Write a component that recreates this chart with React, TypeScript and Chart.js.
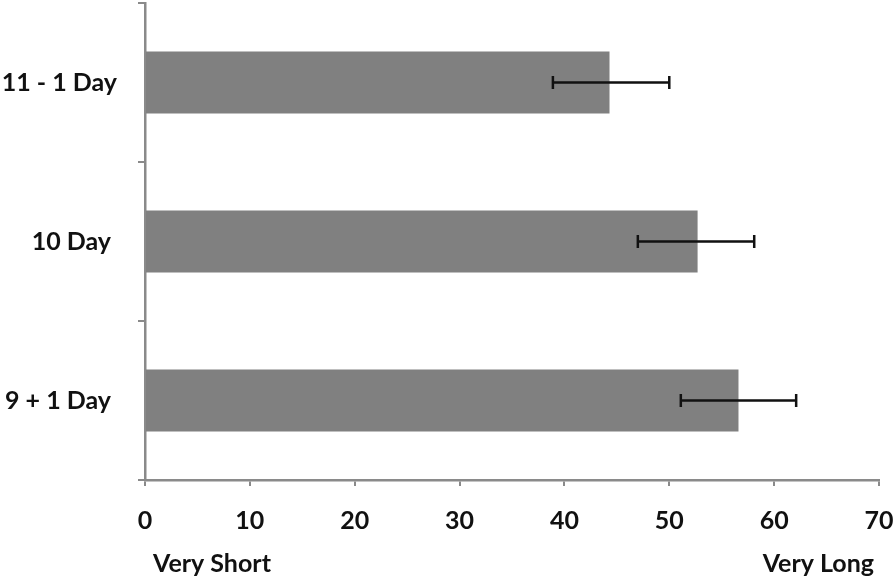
import React, { useEffect, useRef } from "react";
import { Chart, registerables } from "chart.js";

Chart.register(...registerables);

const categories = ["11 - 1 Day", "10 Day ", "9 + 1 Day "];
const values = [44.3, 52.7, 56.6];
const errLow = [38.9, 47.0, 51.1];
const errHigh = [50.0, 58.1, 62.1];
const xTicks = [0, 10, 20, 30, 40, 50, 60, 70];
const leftNote = "Very Short";
const rightNote = "Very Long";

const FONT = "Lato, 'DejaVu Sans', sans-serif";
const FSIZE = 25;
const FWEIGHT = "bold";

const errorBarPlugin = {
  id: "errorBars",
  afterDatasetsDraw(chart: any) {
    const ctx = chart.ctx;
    const meta = chart.getDatasetMeta(0);
    const xs = chart.scales.x;
    ctx.save();
    ctx.strokeStyle = "#111";
    ctx.lineWidth = 2.5;
    meta.data.forEach((bar: any, i: number) => {
      const y = bar.y;
      const x1 = xs.getPixelForValue(errLow[i]);
      const x2 = xs.getPixelForValue(errHigh[i]);
      ctx.beginPath();
      ctx.moveTo(x1, y);
      ctx.lineTo(x2, y);
      ctx.moveTo(x1, y - 6.5);
      ctx.lineTo(x1, y + 6.5);
      ctx.moveTo(x2, y - 6.5);
      ctx.lineTo(x2, y + 6.5);
      ctx.stroke();
    });
    ctx.restore();
  },
};

const notesPlugin = {
  id: "notes",
  afterDraw(chart: any) {
    const ctx = chart.ctx;
    const area = chart.chartArea;
    ctx.save();
    ctx.fillStyle = "#111";
    ctx.font = `${FWEIGHT} ${FSIZE}px ${FONT}`;
    ctx.textBaseline = "alphabetic";
    ctx.textAlign = "left";
    ctx.fillText(leftNote, area.left + 8, 572);
    ctx.textAlign = "right";
    ctx.fillText(rightNote, area.right - 5, 572);
    ctx.restore();
  },
};

export default function App() {
  const ref = useRef<HTMLCanvasElement | null>(null);
  useEffect(() => {
    if (!ref.current) return;
    const chart = new Chart(ref.current, {
      type: "bar",
      data: {
        labels: categories,
        datasets: [
          {
            data: values,
            backgroundColor: "#808080",
            borderWidth: 0,
            barPercentage: 0.39,
            categoryPercentage: 1,
          },
        ],
      },
      options: {
        indexAxis: "y",
        responsive: false,
        animation: false,
        layout: { padding: { top: 3, right: 17, left: 0, bottom: 0 } },
        plugins: {
          legend: { display: false },
          tooltip: { enabled: false },
        },
        scales: {
          x: {
            type: "linear",
            min: 0,
            max: 70,
            afterFit(scale: any) {
              scale.height = 100;
              scale.paddingLeft = 0;
              scale.paddingRight = 0;
            },
            afterBuildTicks(scale: any) {
              scale.ticks = xTicks.map((v) => ({ value: v }));
            },
            ticks: {
              color: "#111",
              font: { family: FONT, size: FSIZE, weight: FWEIGHT },
              padding: 20,
            },
            grid: {
              drawOnChartArea: false,
              drawTicks: true,
              tickLength: 6,
              color: "#8a8a8a",
              lineWidth: 2,
            },
            border: { display: true, color: "#8a8a8a", width: 2.5 },
          },
          y: {
            afterFit(scale: any) {
              scale.width = 145;
              scale.paddingTop = 0;
              scale.paddingBottom = 0;
            },
            ticks: {
              color: "#111",
              font: { family: FONT, size: FSIZE, weight: FWEIGHT },
              padding: 21,
            },
            grid: {
              offset: true,
              drawOnChartArea: false,
              drawTicks: true,
              tickLength: 7,
              color: "#8a8a8a",
              lineWidth: 2,
            },
            border: { display: true, color: "#8a8a8a", width: 2.5 },
          },
        },
      },
      plugins: [errorBarPlugin, notesPlugin],
    } as any);
    return () => chart.destroy();
  }, []);
  return (
    <div style={{ position: "absolute", left: 0, top: 0, width: 896, height: 580, background: "#fff" }}>
      <canvas ref={ref} width={896} height={580} style={{ width: 896, height: 580, display: "block" }} />
    </div>
  );
}
